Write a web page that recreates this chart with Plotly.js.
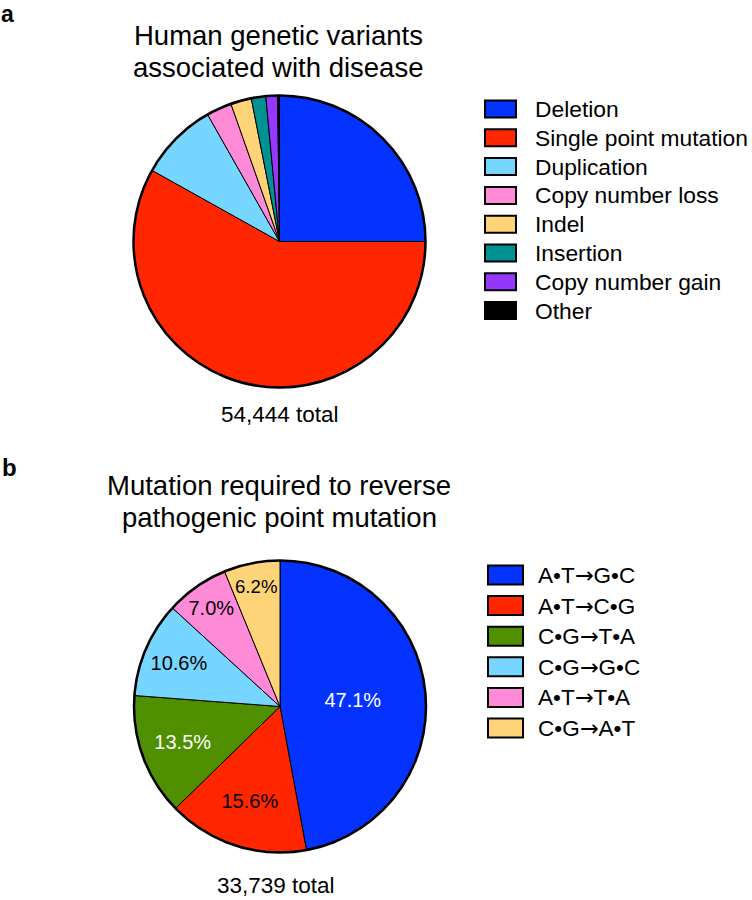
<!DOCTYPE html>
<html>
<head>
<meta charset="utf-8">
<script src="https://cdn.plot.ly/plotly-3.0.1.min.js"></script>
<style>html,body{margin:0;padding:0;background:#fff;}#chart{width:752px;height:900px;}</style>
</head>
<body>
<div id="chart"></div>
<script>
// ---- data ----
const variantLabels = ['Deletion', 'Single point mutation', 'Duplication', 'Copy number loss', 'Indel', 'Insertion', 'Copy number gain', 'Other'];
const variantValues = [25.0, 58.1, 8.7, 2.8, 2.3, 1.6, 1.3, 0.2];
const variantColors = ['#0433FF', '#FF2600', '#76D6FF', '#FF8AD8', '#FFD479', '#009193', '#9437FF', '#000000'];

const reversalLabels = ['A•T→G•C', 'A•T→C•G', 'C•G→T•A', 'C•G→G•C', 'A•T→T•A', 'C•G→A•T'];
const reversalValues = [47.1, 15.6, 13.5, 10.6, 7.0, 6.2];
const reversalColors = ['#0433FF', '#FF2600', '#4F8F00', '#76D6FF', '#FF8AD8', '#FFD479'];
const reversalTextColors = ['#FFFFFF', '#000000', '#FFFFFF', '#000000', '#000000', '#000000'];

const titleA = ['Human genetic variants', 'associated with disease'];
const titleB = ['Mutation required to reverse', 'pathogenic point mutation'];
const totals = [54444, 33739];
const panelLetters = ['a', 'b'];

// ---- layout helpers ----
const W = 752, H = 900;
const FONT = 'Liberation Sans, Arial, Helvetica, sans-serif';
const px = x => x / W;
const py = y => 1 - y / H;

const pieA = {cx: 279.5, cy: 241.5, r: 146};
const pieB = {cx: 280, cy: 706.5, r: 146};
function dom(p) {
  return {x: [px(p.cx - p.r), px(p.cx + p.r)], y: [py(p.cy + p.r), py(p.cy - p.r)]};
}

const traces = [
  {
    type: 'pie', labels: variantLabels, values: variantValues,
    marker: {colors: variantColors, line: {color: '#000', width: 1}},
    sort: false, direction: 'clockwise', rotation: 0,
    textinfo: 'none', hoverinfo: 'label+percent',
    domain: dom(pieA), showlegend: false
  },
  {
    type: 'pie', labels: reversalLabels, values: reversalValues,
    marker: {colors: reversalColors, line: {color: '#000', width: 1}},
    sort: false, direction: 'clockwise', rotation: 0,
    texttemplate: '%{value:.1f}%', textposition: 'inside',
    insidetextorientation: 'horizontal',
    insidetextfont: {family: FONT, size: 20, color: reversalTextColors},
    hoverinfo: 'label+value',
    domain: dom(pieB), showlegend: false
  }
];

const shapes = [];
const annotations = [];

// outer rims
[pieA, pieB].forEach(p => {
  shapes.push({type: 'circle', xref: 'paper', yref: 'paper',
    x0: px(p.cx - p.r), x1: px(p.cx + p.r), y0: py(p.cy + p.r), y1: py(p.cy - p.r),
    line: {color: '#000', width: 2.5}, fillcolor: 'rgba(0,0,0,0)'});
});

// text helper: y given as baseline
function txt(text, x, baseline, size, anchor, bold) {
  annotations.push({xref: 'paper', yref: 'paper', x: px(x), y: py(baseline - 0.36 * size),
    xanchor: anchor, yanchor: 'middle', showarrow: false,
    text: bold ? '<b>' + text + '</b>' : text,
    font: {family: FONT, size: size, color: '#000'}});
}

// panel letters
annotations.push({xref: 'paper', yref: 'paper', x: 0, y: 1, xanchor: 'left', yanchor: 'top',
  showarrow: false, borderpad: 0, text: '<b>' + panelLetters[0] + '</b>',
  font: {family: FONT, size: 23, color: '#000'}});
txt(panelLetters[1], 0, 476, 24, 'left', true);
txt(titleA[0], 278, 45, 27.5, 'center');
txt(titleA[1], 278, 77.5, 27.5, 'center');
txt(titleB[0], 279, 495, 27.5, 'center');
txt(titleB[1], 279, 527.5, 27.5, 'center');
txt(totals[0].toLocaleString('en-US') + ' total', 279.5, 422.5, 22.5, 'center');
txt(totals[1].toLocaleString('en-US') + ' total', 276, 894, 22.5, 'center');

// legends (arrow glyph drawn from a font with a full-size arrow)
function fmtLabel(s) {
  return s.replace(/→/g, '<span style="font-family:DejaVu Sans">→</span>');
}
function legend(labels, colors, x0, w, h, y0, dy, tx, size) {
  labels.forEach((lab, i) => {
    const yc = y0 + dy * i;
    shapes.push({type: 'rect', xref: 'paper', yref: 'paper',
      x0: px(x0), x1: px(x0 + w), y0: py(yc + h / 2), y1: py(yc - h / 2),
      fillcolor: colors[i], line: {color: '#000', width: 2}});
    annotations.push({xref: 'paper', yref: 'paper', x: px(tx), y: py(yc),
      xanchor: 'left', yanchor: 'middle', showarrow: false, text: fmtLabel(lab),
      font: {family: FONT, size: size, color: '#000'}});
  });
}
legend(variantLabels, variantColors, 485, 31, 17, 109, 28.8, 533, 22.8);
legend(reversalLabels, reversalColors, 488, 35, 19, 575, 30.6, 536, 22.5);

const layout = {
  width: W, height: H,
  margin: {l: 0, r: 0, t: 0, b: 0},
  paper_bgcolor: '#fff', plot_bgcolor: '#fff',
  showlegend: false,
  font: {family: FONT, color: '#000'},
  shapes: shapes, annotations: annotations
};

Plotly.newPlot('chart', traces, layout, {displayModeBar: false, staticPlot: true});
</script>
</body>
</html>
